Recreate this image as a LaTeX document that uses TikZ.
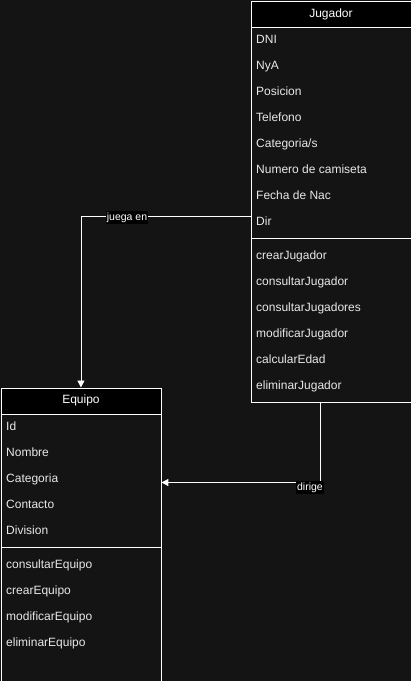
\documentclass[tikz,border=0pt]{standalone}
\usepackage{fontspec}
\setmainfont{Liberation Sans}
\usetikzlibrary{arrows.meta}
\definecolor{bg}{HTML}{141414}
\definecolor{txt}{HTML}{E8E8E8}
\begin{document}
\begin{tikzpicture}[x=1pt,y=-1pt,
  box/.style={draw=white, line width=0.9pt, fill=bg, anchor=north west, inner sep=0pt},
  head/.style={draw=white, line width=0.9pt, fill=black, anchor=north west, inner sep=0pt, text=white, font=\fontsize{12}{14}\selectfont},
  item/.style={anchor=west, inner sep=0pt, text height=8.6pt, text depth=2.6pt, text=txt, font=\fontsize{12}{14}\selectfont},
  sep/.style={draw=white, line width=0.9pt},
  conn/.style={draw=white, line width=0.9pt, -{Triangle[length=7pt,width=7pt]}},
  lbl/.style={fill=black, inner sep=1pt, text height=8pt, text depth=2.4pt, text=white, font=\fontsize{10.5}{12}\selectfont}]
\useasboundingbox[fill=bg] (0,0) rectangle (411,681);
% Jugador
\node[box, minimum width=160, minimum height=401] (jug) at (250.5,1) {};
\node[head, minimum width=160, minimum height=26] (jugh) at (250.5,1) {};
\node[item, anchor=center, text=white] (jugt) at (jugh.center) {Jugador};
\node[item] (j1) at (256,40) {DNI};
\node[item] (j2) at (256,66) {NyA};
\node[item] (j3) at (256,92) {Posicion};
\node[item] (j4) at (256,118) {Telefono};
\node[item] (j5) at (256,144) {Categoria/s};
\node[item] (j6) at (256,170) {Numero de camiseta};
\node[item] (j7) at (256,196) {Fecha de Nac};
\node[item] (j8) at (256,222) {Dir};
\draw[sep] (jug.west |- 0,238.5) -- (jug.east |- 0,238.5);
\node[item] (m1) at (256,256) {crearJugador};
\node[item] (m2) at (256,282) {consultarJugador};
\node[item] (m3) at (256,308) {consultarJugadores};
\node[item] (m4) at (256,334) {modificarJugador};
\node[item] (m5) at (256,360) {calcularEdad};
\node[item] (m6) at (256,386) {eliminarJugador};
% Equipo
\node[box, minimum width=160, minimum height=294] (equ) at (0.5,387.5) {};
\node[head, minimum width=160, minimum height=26] (equh) at (0.5,387.5) {};
\node[item, anchor=center, text=white] (equt) at (equh.center) {Equipo};
\node[item] (e1) at (6,427) {Id};
\node[item] (e2) at (6,453) {Nombre};
\node[item] (e3) at (6,479) {Categoria};
\node[item] (e4) at (6,505) {Contacto};
\node[item] (e5) at (6,531) {Division};
\draw[sep] (equ.west |- 0,547.5) -- (equ.east |- 0,547.5);
\node[item] (f1) at (6,565) {consultarEquipo};
\node[item] (f2) at (6,591) {crearEquipo};
\node[item] (f3) at (6,617) {modificarEquipo};
\node[item] (f4) at (6,643) {eliminarEquipo};
% connectors
\coordinate (c1) at (jug.west |- 0,216.5);
\draw[conn] (c1) -| (equ.north);
\node[lbl] (l1) at (127,217.5) {juega en};
\coordinate (c2) at (320.5,402);
\coordinate (c3) at (equ.east |- 0,482.5);
\draw[conn] (c2) |- (c3);
\node[lbl] (l2) at (310,487.5) {dirige};
\end{tikzpicture}
\end{document}
